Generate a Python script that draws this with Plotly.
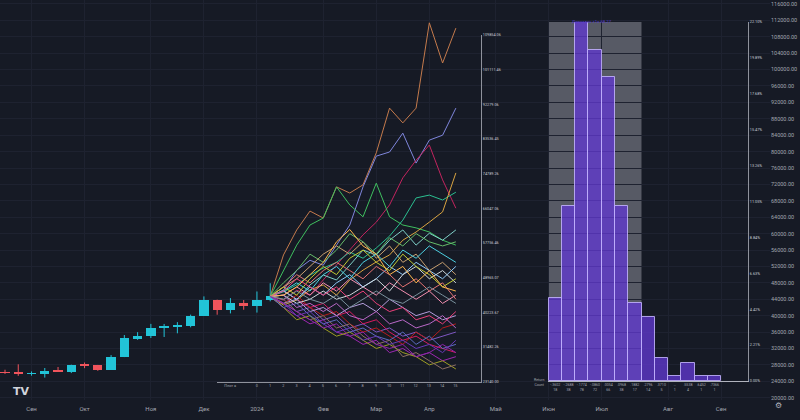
import plotly.graph_objects as go

BG = "#161a25"
GRID = "#1e2230"
TXT = "#a3a6af"
UP = "#22c4d8"
DOWN = "#f0545c"

# ---------------- weekly candles (bar index 0 = 21 Aug 2023) ----------------
candle_idx = list(range(21))
candle_open = [26190, 26100, 25840, 25900, 26530, 26300, 27990, 27940, 26860, 29980, 34530,
               35010, 37060, 37390, 37450, 39980, 43780, 41370, 42980, 42280, 43930]
candle_high = [26820, 28140, 26410, 27240, 27490, 28050, 28580, 27990, 30380, 35280, 35980,
               38000, 37980, 38420, 40250, 44700, 43900, 44280, 43810, 45900, 47900]
candle_low = [25800, 25330, 25370, 24900, 26390, 26000, 27200, 26550, 26820, 29900, 34100,
              34550, 34800, 35700, 37160, 39980, 40230, 40550, 41440, 40750, 43500]
candle_close = [26100, 25840, 25900, 26530, 26300, 27990, 27940, 26860, 29980, 34530, 35010,
                37060, 37390, 37450, 39980, 43780, 41370, 42980, 42280, 43930, 44700]

month_tick_idx = [2, 6, 11, 15, 19, 24, 28, 32, 37, 41, 45, 50, 54]
month_labels = ["Сен", "Окт", "Ноя", "Дек", "2024", "Фев", "Мар", "Апр", "Май", "Июн", "Июл", "Авг", "Сен"]
price_ticks = list(range(20000, 116001, 4000))

# ---------------- Monte Carlo paths (thousands USD, 15 points) ----------------
path_a = [44.7, 54.8, 60.9, 65.5, 63.8, 71.4, 69.9, 71.9, 79.7, 90.6, 87.0, 90.6, 111.4, 101.6, 110.1]
path_b = [44.7, 46.2, 51.1, 53.5, 52.3, 57.2, 62.1, 71.4, 78.9, 79.9, 84.5, 77.2, 82.8, 84.0, 90.6]
path_c = [44.7, 43.8, 46.2, 45.0, 48.7, 52.3, 56.0, 59.7, 62.8, 67.0, 73.6, 77.9, 81.6, 73.1, 66.2]
path_d = [44.7, 51.1, 57.2, 62.1, 63.8, 71.4, 67.0, 64.1, 72.3, 64.1, 62.1, 61.4, 60.4, 58.4, 57.2]
path_e = [44.7, 45.8, 47.5, 49.9, 51.6, 53.0, 55.5, 54.0, 56.5, 59.4, 63.3, 68.7, 69.4, 68.2, 70.1]
path_f = [44.7, 42.6, 43.8, 46.3, 47.5, 45.0, 48.7, 51.1, 53.1, 54.8, 58.4, 60.4, 62.8, 65.3, 74.8]
path_g = [44.7, 46.2, 43.8, 47.5, 49.9, 48.7, 52.3, 56.0, 54.8, 58.4, 60.9, 57.2, 60.1, 58.4, 60.9]
path_h = [44.7, 47, 49, 52, 55, 57, 55, 58, 54, 57, 53, 55, 51, 53, 50]
path_i = [44.7, 42, 40, 38, 39, 36, 35, 33, 34, 31, 32, 30, 31, 29, 30]
path_j = [44.7, 43, 41, 42, 39, 40, 37, 38, 36, 37, 35, 36, 34, 35, 36]
path_k = [44.7, 46, 44, 42, 43, 40, 41, 38, 39, 36, 34, 35, 33, 32, 31]
path_l = [44.7, 45, 47, 45, 48, 46, 49, 47, 45, 48, 46, 44, 46, 43, 45]
path_m = [44.7, 46, 44, 47, 45, 48, 50, 47, 49, 52, 50, 53, 51, 49, 52]
path_n = [44.7, 43, 45, 42, 40, 41, 38, 36, 37, 35, 33, 36, 34, 37, 38]
path_o = [44.7, 42, 39, 40, 37, 35, 36, 34, 32, 33, 31, 30, 28, 29, 27]
path_p = [44.7, 45, 43, 44, 46, 44, 45, 47, 49, 46, 50, 52, 49, 51, 48]
path_q = [44.7, 43, 44, 41, 42, 40, 42, 43, 41, 44, 42, 40, 41, 39, 40]
path_r = [44.7, 47, 50, 48, 51, 53, 51, 49, 52, 50, 47, 49, 46, 48, 44]
path_s = [44.7, 42, 43, 40, 38, 39, 36, 37, 35, 34, 36, 33, 35, 32, 33]
path_t = [44.7, 46, 48, 46, 50, 52, 49, 53, 55, 52, 56, 54, 57, 55, 53]
path_u = [44.7, 44, 41, 39, 40, 37, 38, 35, 33, 34, 30, 31, 29, 27, 28]
path_v = [44.7, 45, 42, 43, 41, 43, 40, 39, 41, 38, 39, 37, 38, 40, 37]
path_w = [44.7, 47, 45, 49, 52, 50, 54, 56, 53, 51, 55, 52, 50, 47, 49]
path_x = [44.7, 43, 40, 41, 38, 36, 37, 34, 35, 33, 34, 32, 33, 31, 34]
path_y = [44.7, 46, 49, 47, 45, 47, 44, 46, 43, 41, 42, 39, 40, 38, 41]
path_z = [44.7, 48, 51, 55, 53, 56, 60, 58, 55, 59, 57, 60, 58, 57, 58]
path_aa = [44.7, 45, 47, 50, 53, 58, 61, 57, 55, 50, 52, 48, 51, 47, 46]
path_ab = [44.7, 44, 46, 44, 43, 45, 42, 44, 46, 44, 43, 45, 47, 45, 43]
path_ac = [44.7, 43, 41, 39, 37, 38, 35, 36, 33, 32, 33, 30, 31, 33, 31]

mc_paths = [path_a, path_b, path_c, path_d, path_e, path_f, path_g, path_h, path_i, path_j,
            path_k, path_l, path_m, path_n, path_o, path_p, path_q, path_r, path_s, path_t,
            path_u, path_v, path_w, path_x, path_y, path_z, path_aa, path_ab, path_ac]
mc_colors = ["#c47a4c", "#7f86dc", "#c2245e", "#3fbf5f", "#2bbf90", "#d9a441", "#7fd0c8",
             "#c8a070", "#9c27b0", "#7e57c2", "#d81b60", "#f48fb1", "#90caf9", "#b71c1c",
             "#9e9d24", "#cfd8dc", "#b39ddb", "#e57373", "#5c6bc0", "#4dd0e1", "#8d6e63",
             "#ba68c8", "#c0ca33", "#673ab7", "#ec407a", "#66bb6a", "#ffb74d", "#78909c", "#8e24aa"]

mc_step_vals = [-2] + list(range(16))
mc_step_labels = ["Плот а", "0", "1", "2", "3", "4", "5", "6", "7", "8", "9", "10", "11", "12", "13", "14", "15"]
mc_axis_labels = ["23140.00", "31482.26", "40223.67", "48965.07", "57756.46", "66047.06",
                  "74789.26", "83536.45", "92279.06", "101111.46", "109854.06"]

# ---------------- histogram of simulated returns ----------------
hist_counts = [18, 38, 78, 72, 66, 38, 17, 14, 5, 1, 4, 1, 1]
hist_returns = ["-.3602", "-.2688", "-.1774", "-.0860", ".0054", ".0968", ".1882",
                ".2796", ".3710", "…", ".5538", ".6452", ".7366"]
hist_first_bin = 41
hist_title = "Диапазон ±1σ 68.27"

fig = go.Figure()

# candle bodies (bars) and wicks (lines), drawn from the OHLC lists
colors = [UP if c >= o else DOWN for o, c in zip(candle_open, candle_close)]
body_base = [min(o, c) for o, c in zip(candle_open, candle_close)]
body_len = [max(abs(c - o), 120) for o, c in zip(candle_open, candle_close)]
for col in (UP, DOWN):
    wx, wy = [], []
    for i, h, l, cc in zip(candle_idx, candle_high, candle_low, colors):
        if cc == col:
            wx += [i, i, None]
            wy += [l, h, None]
    fig.add_trace(go.Scatter(x=wx, y=wy, mode="lines", line=dict(color=col, width=1),
                             showlegend=False, hoverinfo="skip"))
fig.add_trace(go.Bar(x=candle_idx, y=body_len, base=body_base, width=0.7,
                     marker=dict(color=colors, line=dict(width=0)),
                     showlegend=False, hoverinfo="skip"))

start_idx = candle_idx[-1]
for vals, col in zip(mc_paths, mc_colors):
    fig.add_trace(go.Scatter(
        x=[start_idx + k for k in range(len(vals))], y=[v * 1000 for v in vals],
        mode="lines", line=dict(color=col, width=1), showlegend=False, hoverinfo="skip"))

# helper trace so the Monte Carlo step/value axes are drawn
fig.add_trace(go.Scatter(x=mc_step_vals, y=[None] * len(mc_step_vals), xaxis="x2", yaxis="y3",
                         mode="lines", showlegend=False, hoverinfo="skip"))

total = sum(hist_counts)
pct = [c / total * 100 for c in hist_counts]
centers = [hist_first_bin + 0.5 + k for k in range(len(hist_counts))]
fig.add_trace(go.Bar(
    x=centers, y=pct, width=1, xaxis="x3", yaxis="y2",
    marker=dict(color="rgba(96,56,206,0.78)", line=dict(color="rgba(196,180,255,0.85)", width=1)),
    showlegend=False, hoverinfo="skip"))

max_pct = max(pct)
pct_ticks = [max_pct * k / 10 for k in range(11)]
pct_labels = ["%.2f%%" % v for v in pct_ticks]
mc_ticks = [23140 + (109854.06 - 23140) * k / 10 for k in range(11)]

W, H_PLOT = 770, 400
font = "Roboto"

fig.update_layout(
    width=800, height=420, margin=dict(l=0, r=30, t=0, b=20, autoexpand=False),
    paper_bgcolor=BG, plot_bgcolor="rgba(0,0,0,0)", font=dict(family=font, color=TXT),
    barmode="overlay",
    xaxis=dict(domain=[0, 1], range=[-0.377, 57.69], tickvals=month_tick_idx, ticktext=month_labels,
               showgrid=True, gridcolor=GRID, zeroline=False, ticks="outside", ticklen=3,
               tickcolor=BG, tickfont=dict(size=6, color=TXT), anchor="y", automargin=False),
    yaxis=dict(domain=[0, 1], range=[19439, 116960], side="right", tickvals=price_ticks,
               tickformat=".2f", showgrid=True, gridcolor=GRID, zeroline=False,
               tickfont=dict(size=5.5, color=TXT), anchor="x", automargin=False),
    xaxis2=dict(domain=[217 / W, 481 / W], range=[-3.0, 16.94], anchor="y3", showline=True,
                linecolor="#8f929c", linewidth=1, tickvals=mc_step_vals, ticktext=mc_step_labels,
                tickfont=dict(size=3.8, color=TXT), showgrid=False, zeroline=False, ticks="",
                automargin=False),
    yaxis3=dict(domain=[1 - 381.7 / H_PLOT, 1 - 35 / H_PLOT], range=[23140, 109854.06],
                anchor="x2", side="right", showline=True, linecolor="#8f929c", linewidth=1,
                tickvals=mc_ticks, ticktext=mc_axis_labels, tickfont=dict(size=3.8, color="#c9ccd4"),
                showgrid=False, zeroline=False, ticks="", automargin=False),
    xaxis3=dict(domain=[548 / W, 748 / W], range=[40.95, 56.03], anchor="y2", showline=True,
                linecolor="#b0b3bd", linewidth=1, tickvals=centers,
                ticktext=["%s<br>%s" % (r, c) for r, c in zip(hist_returns, hist_counts)],
                tickfont=dict(size=3.6, color=TXT), showgrid=False, zeroline=False, ticks="",
                automargin=False),
    yaxis2=dict(domain=[1 - 381 / H_PLOT, 1 - 22 / H_PLOT], range=[0, max_pct], anchor="x3",
                side="right", showline=True, linecolor="#8f929c", linewidth=1,
                tickvals=pct_ticks, ticktext=pct_labels, tickfont=dict(size=3.8, color="#c9ccd4"),
                showgrid=False, zeroline=False, ticks="", automargin=False),
    bargap=0,
)

fig.add_shape(type="rect", xref="x3", yref="y2 domain", x0=hist_first_bin, x1=hist_first_bin + 7,
              y0=0, y1=1, fillcolor="rgba(128,131,140,0.62)", line=dict(width=0), layer="below")

fig.add_annotation(x=hist_first_bin - 0.7, y=1 - 388.5 / H_PLOT, xref="x", yref="paper",
                   text="Return<br>Count", showarrow=False, font=dict(size=3.6, color=TXT))
fig.add_annotation(x=hist_first_bin + 3.3, y=1 - 17 / H_PLOT, xref="x", yref="paper",
                   text=hist_title, showarrow=False, font=dict(size=4.2, color="#5b3fd0"))
fig.add_annotation(x=11 / W, y=1 - 400 / H_PLOT, xref="paper", yref="paper", text="<b>TV</b>",
                   showarrow=False, font=dict(size=11, color="#d1d4dc", family="DejaVu Sans"))
fig.add_annotation(x=784 / W, y=1 - 412 / H_PLOT, xref="paper", yref="paper", text="⚙",
                   showarrow=False, font=dict(size=8, color="#b2b5be", family="DejaVu Sans"))

fig.write_html("out.html", config={"displayModeBar": False},
               post_script="document.body.style.margin='0';document.body.style.background='%s';" % BG)
